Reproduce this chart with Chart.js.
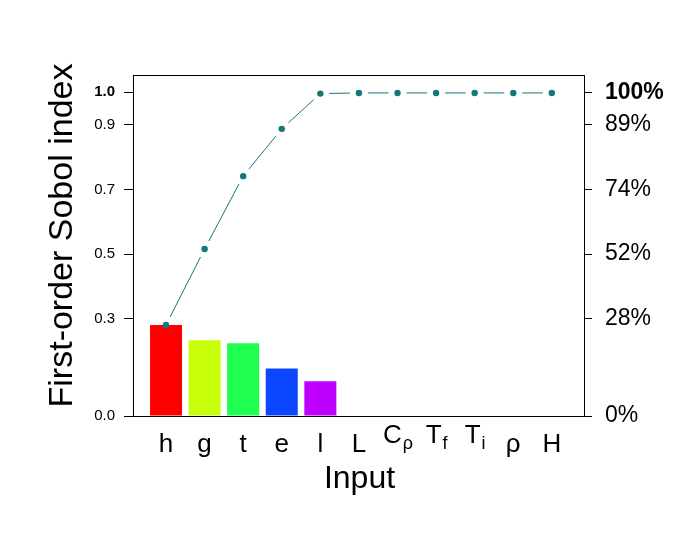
<!DOCTYPE html>
<html>
<head>
<meta charset="utf-8">
<script src="https://cdn.jsdelivr.net/npm/chart.js@4.4.0/dist/chart.umd.min.js"></script>
<style>
  html, body { margin: 0; padding: 0; background: #ffffff; }
  #wrap { width: 700px; height: 550px; }
</style>
</head>
<body>
<div id="wrap"><canvas id="c" width="700" height="550"></canvas></div>
<script>
// ---- data ----
const categoryBase = ['h', 'g', 't', 'e', 'l', 'L', 'C', 'T', 'T', 'ρ', 'H'];
const categorySub  = ['',  '',  '',  '',  '',  '',  'ρ', 'f', 'i', '',  ''];
const firstOrder   = [0.281, 0.234, 0.225, 0.147, 0.107, 0, 0, 0, 0, 0, 0];
const cumulative   = [0.281, 0.516, 0.741, 0.887, 0.996, 0.998, 0.998, 0.998, 0.998, 0.998, 0.998];
const barColors    = ['#FF0000', '#C8FF0A', '#1EFF50', '#0A47FF', '#BE00FF', '#888888', '#888888', '#888888', '#888888', '#888888', '#888888'];
const leftTickValues  = [0, 0.3, 0.5, 0.7, 0.9, 1.0];
const leftTickLabels  = ['0.0', '0.3', '0.5', '0.7', '0.9', '1.0'];
const rightTickLabels = ['0%', '28%', '52%', '74%', '89%', '100%'];
const yTitle = 'First-order Sobol index';
const xTitle = 'Input';

const FONT = "'Liberation Sans', Arial, sans-serif";
const LINE_COLOR = '#127878';

const barData = firstOrder.map((v, i) => ({ x: i, y: v }));
const lineData = cumulative.map((v, i) => ({ x: i, y: v }));

// gapped connecting segments (R type="b" style), between library-computed points
const gapLinePlugin = {
  id: 'gapLine',
  beforeDatasetDraw(chart, args) {
    if (args.index !== 1) return;
    const pts = chart.getDatasetMeta(1).data;
    const ctx = chart.ctx;
    const gap = 9;
    ctx.save();
    ctx.strokeStyle = LINE_COLOR;
    ctx.lineWidth = 1;
    for (let i = 0; i < pts.length - 1; i++) {
      const a = pts[i], b = pts[i + 1];
      const dx = b.x - a.x, dy = b.y - a.y;
      const len = Math.hypot(dx, dy);
      if (len <= 2 * gap) continue;
      const ux = dx / len, uy = dy / len;
      ctx.beginPath();
      ctx.moveTo(a.x + ux * gap, a.y + uy * gap);
      ctx.lineTo(b.x - ux * gap, b.y - uy * gap);
      ctx.stroke();
    }
    ctx.restore();
  }
};

const boxPlugin = {
  id: 'box',
  afterDraw(chart) {
    const { left, right, top, bottom } = chart.chartArea;
    const ctx = chart.ctx;
    ctx.save();
    ctx.strokeStyle = '#000';
    ctx.lineWidth = 1;
    ctx.strokeRect(Math.round(left) - 0.5, Math.round(top) + 0.5, Math.round(right - left), Math.round(bottom - top));
    // y-axis title
    ctx.fillStyle = '#000';
    ctx.font = '34px ' + FONT;
    ctx.textAlign = 'center';
    ctx.textBaseline = 'middle';
    ctx.translate(63, (top + bottom) / 2 - 10);
    ctx.rotate(-Math.PI / 2);
    ctx.fillText(yTitle, 0, 0);
    ctx.restore();
  }
};

const xLabelPlugin = {
  id: 'xLabels',
  afterDraw(chart) {
    const xs = chart.scales.x;
    const base = chart.chartArea.bottom;
    const ctx = chart.ctx;
    ctx.save();
    ctx.fillStyle = '#000';
    ctx.textBaseline = 'alphabetic';
    for (let i = 0; i < categoryBase.length; i++) {
      const x = xs.getPixelForValue(i);
      if (categorySub[i]) {
        ctx.font = '26px ' + FONT;
        const wb = ctx.measureText(categoryBase[i]).width;
        ctx.font = '18px ' + FONT;
        const ws = ctx.measureText(categorySub[i]).width;
        const start = x - (wb + ws) / 2;
        ctx.textAlign = 'left';
        ctx.font = '26px ' + FONT;
        ctx.fillText(categoryBase[i], start, base + 27);
        ctx.font = '18px ' + FONT;
        ctx.fillText(categorySub[i], start + wb + 1, base + 33);
      } else {
        ctx.font = '26px ' + FONT;
        ctx.textAlign = 'center';
        ctx.fillText(categoryBase[i], x, base + 36);
      }
    }
    ctx.restore();
  }
};

new Chart(document.getElementById('c'), {
  data: {
    datasets: [
      {
        type: 'bar',
        data: barData,
        backgroundColor: barColors,
        borderWidth: 0,
        barPercentage: 1,
        categoryPercentage: 0.83,
        order: 1,
        yAxisID: 'y'
      },
      {
        type: 'line',
        data: lineData,
        showLine: false,
        pointRadius: 3.2,
        pointBackgroundColor: LINE_COLOR,
        pointBorderWidth: 0,
        order: 0,
        yAxisID: 'y'
      }
    ]
  },
  options: {
    responsive: false,
    animation: false,
    layout: { padding: { top: 75, left: 0, right: 0, bottom: 0 } },
    plugins: { legend: { display: false }, tooltip: { enabled: false } },
    scales: {
      x: {
        type: 'linear',
        offset: false,
        min: -0.83,
        max: 10.86,
        grid: { display: false, offset: false },
        border: { display: false },
        ticks: { display: false },
        title: {
          display: true,
          text: xTitle,
          color: '#000',
          font: { family: FONT, size: 32 },
          padding: { top: 0, bottom: 52 }
        },
        afterFit(s) { s.height = 134; }
      },
      y: {
        position: 'left',
        min: 0,
        max: 1.0534,
        grid: { display: true, drawOnChartArea: false, drawTicks: true, tickLength: 10, color: '#000' },
        border: { display: false },
        afterBuildTicks(s) { s.ticks = leftTickValues.map(v => ({ value: v })); },
        ticks: {
          color: '#000',
          padding: 9,
          font: (c) => ({ family: FONT, size: 15, weight: (c.tick && c.tick.value === 1) ? 'bold' : 'normal' }),
          callback: (v, i) => leftTickLabels[i]
        },
        title: { display: false },
        afterFit(s) { s.width = 134; }
      },
      y2: {
        position: 'right',
        min: 0,
        max: 1.0534,
        grid: { display: true, drawOnChartArea: false, drawTicks: true, tickLength: 7, color: '#000' },
        border: { display: false },
        afterBuildTicks(s) { s.ticks = leftTickValues.map(v => ({ value: v })); },
        ticks: {
          color: '#000',
          padding: 13,
          font: (c) => ({ family: FONT, size: 23, weight: (c.tick && c.tick.value === 1) ? 'bold' : 'normal' }),
          callback: (v, i) => rightTickLabels[i]
        },
        afterFit(s) { s.width = 115; }
      }
    }
  },
  plugins: [gapLinePlugin, boxPlugin, xLabelPlugin]
});
</script>
</body>
</html>
